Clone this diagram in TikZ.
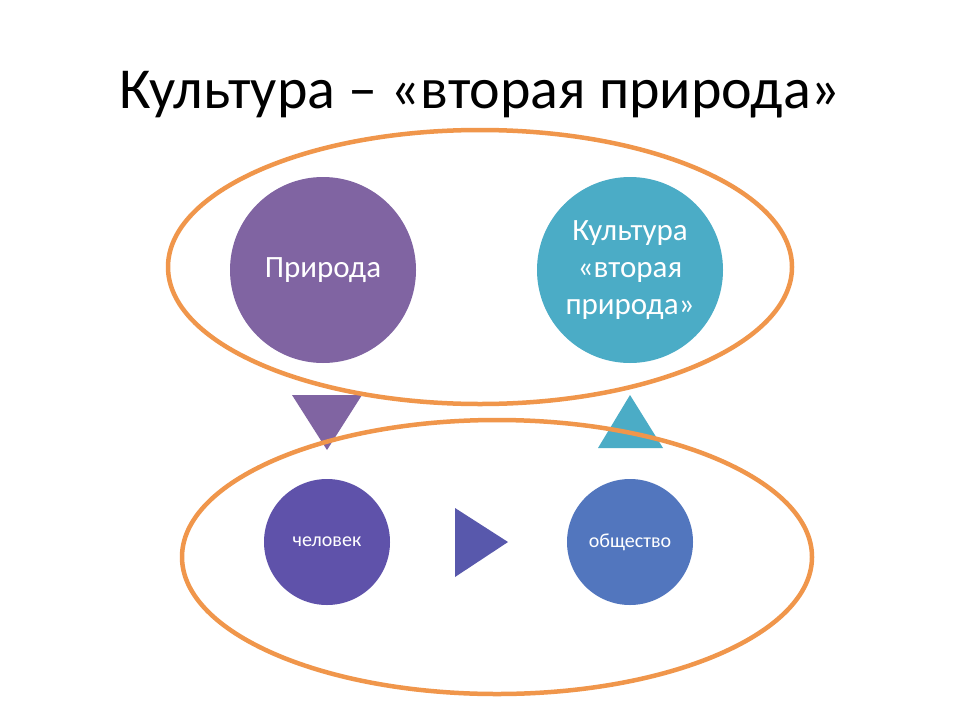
\documentclass[tikz,border=0pt]{standalone}
\usepackage{fontspec}
\setmainfont{Carlito}
\begin{document}
\begin{tikzpicture}[x=1pt,y=-1pt,
  ring/.style={line width=4.5pt},
  bigc/.style={circle, minimum size=186pt, inner sep=0pt, text=white, font=\fontsize{31}{37}\selectfont, align=center},
  smallc/.style={circle, minimum size=126pt, inner sep=0pt, text=white, font=\fontsize{20}{24}\selectfont}]
\definecolor{orng}{RGB}{240,150,75}
\definecolor{purp}{RGB}{128,100,162}
\definecolor{teal2}{RGB}{75,172,198}
\definecolor{pblue}{RGB}{95,82,170}
\definecolor{sblue}{RGB}{82,118,190}
\definecolor{tri}{RGB}{88,88,172}
\fill[white] (0,0) rectangle (960,720);
\node (title) at (480,95) {\fontsize{58}{66}\selectfont Культура – «вторая природа»};
\node[bigc, fill=purp] (nat) at (323,270) {Природа};
\node[bigc, fill=teal2] (cul) at (630,270) {Культура\\«вторая\\природа»};
\node[smallc, fill=pblue] (man) at (327,542) {человек};
\node[smallc, fill=sblue] (soc) at (630,542) {общество};
\fill[purp] (292,395) -- (362,395) -- (327,450) -- cycle;
\fill[teal2] (598,448) -- (663,448) -- (630,395) -- cycle;
\fill[tri] (455,508) -- (455,577) -- (508,542) -- cycle;
\draw[ring, draw=orng] (480,267) ellipse [x radius=312, y radius=137];
\draw[ring, draw=orng] (497,557) ellipse [x radius=315, y radius=137];
\end{tikzpicture}
\end{document}
